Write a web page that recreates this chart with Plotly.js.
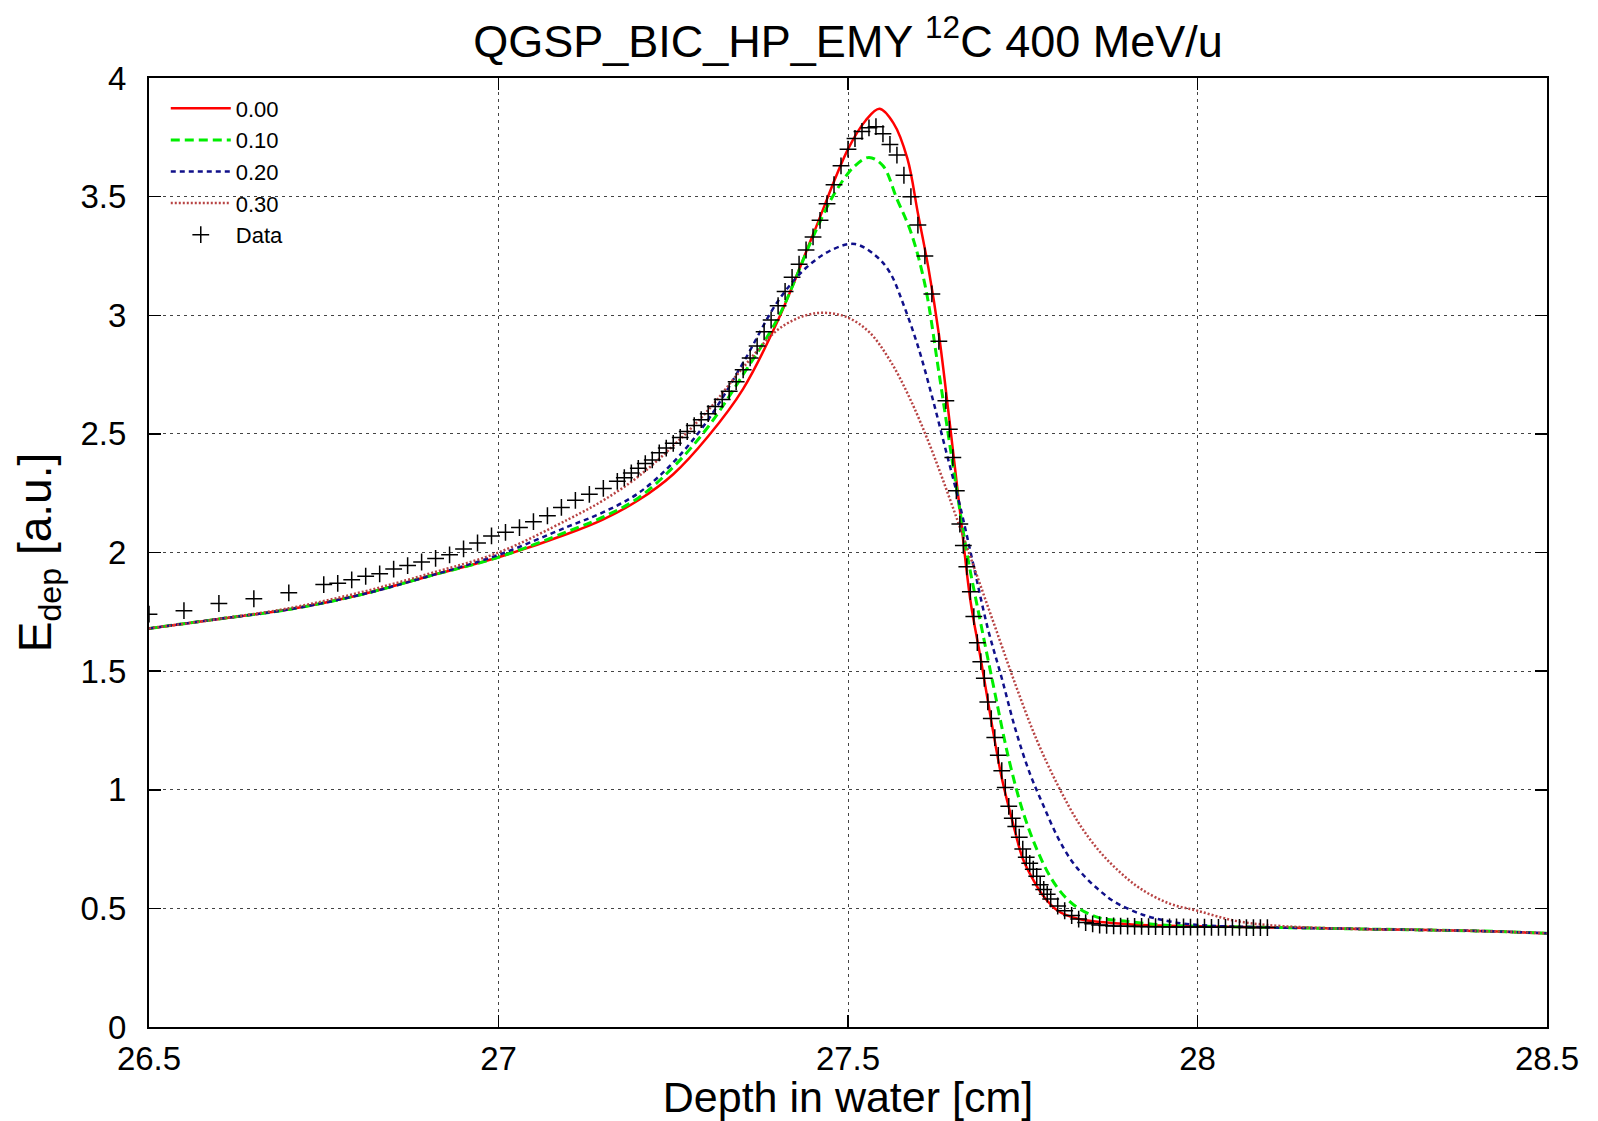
<!DOCTYPE html>
<html>
<head>
<meta charset="utf-8">
<script src="https://cdn.plot.ly/plotly-3.0.1.min.js"></script>
<style>html,body{margin:0;padding:0;background:#fff;}#chart{width:1598px;height:1121px;}</style>
</head>
<body>
<div id="chart"></div>
<script>
// ---- Data ----
const seriesNames = ["0.00", "0.10", "0.20", "0.30", "Data"];

const x000 = [26.50, 26.60, 26.70, 26.80, 26.90, 27.00, 27.10, 27.15, 27.20, 27.25, 27.30, 27.35, 27.40, 27.45, 27.50, 27.525, 27.545, 27.565, 27.585, 27.60, 27.615, 27.63, 27.645, 27.66, 27.675, 27.69, 27.705, 27.72, 27.735, 27.75, 27.765, 27.78, 27.80, 27.83, 27.87, 27.92, 28.00, 28.10, 28.20, 28.30, 28.40, 28.50];
const y000 = [1.68, 1.72, 1.76, 1.82, 1.90, 1.98, 2.08, 2.14, 2.22, 2.33, 2.49, 2.69, 2.98, 3.34, 3.70, 3.82, 3.87, 3.81, 3.66, 3.43, 3.20, 2.92, 2.56, 2.18, 1.80, 1.55, 1.29, 1.05, 0.87, 0.71, 0.62, 0.55, 0.49, 0.455, 0.44, 0.43, 0.425, 0.42, 0.415, 0.41, 0.405, 0.395];

const x010 = [26.50, 26.60, 26.70, 26.80, 26.90, 27.00, 27.10, 27.15, 27.20, 27.25, 27.30, 27.35, 27.40, 27.45, 27.48, 27.51, 27.53, 27.55, 27.57, 27.59, 27.61, 27.63, 27.65, 27.67, 27.69, 27.71, 27.73, 27.75, 27.77, 27.79, 27.81, 27.83, 27.86, 27.90, 27.95, 28.00, 28.10, 28.20, 28.30, 28.40, 28.50];
const y010 = [1.68, 1.72, 1.76, 1.82, 1.90, 1.98, 2.09, 2.15, 2.23, 2.36, 2.53, 2.75, 2.99, 3.33, 3.51, 3.63, 3.665, 3.63, 3.49, 3.35, 3.13, 2.76, 2.37, 2.00, 1.70, 1.41, 1.13, 0.91, 0.75, 0.63, 0.55, 0.50, 0.46, 0.445, 0.43, 0.425, 0.42, 0.415, 0.41, 0.405, 0.395];

const x020 = [26.50, 26.60, 26.70, 26.80, 26.90, 27.00, 27.10, 27.15, 27.20, 27.25, 27.30, 27.35, 27.40, 27.44, 27.48, 27.51, 27.54, 27.56, 27.58, 27.60, 27.62, 27.64, 27.66, 27.68, 27.70, 27.72, 27.74, 27.76, 27.78, 27.80, 27.82, 27.84, 27.86, 27.88, 27.92, 27.96, 28.00, 28.10, 28.20, 28.30, 28.40, 28.50];
const y020 = [1.68, 1.72, 1.76, 1.82, 1.90, 1.99, 2.11, 2.17, 2.25, 2.38, 2.56, 2.80, 3.06, 3.20, 3.28, 3.30, 3.25, 3.18, 3.04, 2.87, 2.66, 2.43, 2.20, 1.94, 1.68, 1.47, 1.25, 1.07, 0.93, 0.80, 0.70, 0.63, 0.575, 0.53, 0.475, 0.445, 0.43, 0.42, 0.415, 0.41, 0.405, 0.395];

const x030 = [26.50, 26.60, 26.70, 26.80, 26.90, 27.00, 27.10, 27.15, 27.20, 27.25, 27.30, 27.35, 27.40, 27.44, 27.47, 27.50, 27.53, 27.56, 27.59, 27.62, 27.65, 27.68, 27.71, 27.74, 27.77, 27.80, 27.83, 27.86, 27.89, 27.92, 27.96, 28.00, 28.05, 28.10, 28.20, 28.30, 28.40, 28.50];
const y030 = [1.68, 1.72, 1.765, 1.83, 1.91, 2.00, 2.14, 2.22, 2.32, 2.45, 2.60, 2.78, 2.94, 3.00, 3.01, 2.99, 2.93, 2.81, 2.64, 2.43, 2.19, 1.94, 1.69, 1.44, 1.21, 1.02, 0.86, 0.74, 0.65, 0.58, 0.52, 0.49, 0.45, 0.43, 0.415, 0.41, 0.405, 0.395];

const dataX = [26.50, 26.55, 26.60, 26.65, 26.70, 26.75, 26.77, 26.79, 26.81, 26.83, 26.85, 26.87, 26.89, 26.91, 26.93, 26.95, 26.97, 26.99, 27.01, 27.03, 27.05, 27.07, 27.09, 27.11, 27.13, 27.15, 27.17, 27.18, 27.19, 27.20, 27.21, 27.22, 27.23, 27.24, 27.25, 27.26, 27.27, 27.28, 27.29, 27.30, 27.31, 27.32, 27.33, 27.34, 27.35, 27.36, 27.37, 27.38, 27.39, 27.40, 27.41, 27.42, 27.43, 27.44, 27.45, 27.46, 27.47, 27.48, 27.49, 27.50, 27.51, 27.52, 27.53, 27.54, 27.55, 27.56, 27.57, 27.58, 27.59, 27.60, 27.61, 27.62, 27.63, 27.64, 27.645, 27.65, 27.655, 27.66, 27.665, 27.67, 27.675, 27.68, 27.685, 27.69, 27.695, 27.70, 27.705, 27.71, 27.715, 27.72, 27.725, 27.73, 27.735, 27.74, 27.745, 27.75, 27.755, 27.76, 27.765, 27.77, 27.775, 27.78, 27.785, 27.79, 27.80, 27.81, 27.82, 27.83, 27.84, 27.85, 27.86, 27.87, 27.88, 27.89, 27.90, 27.91, 27.92, 27.93, 27.94, 27.95, 27.96, 27.97, 27.98, 27.99, 28.00, 28.01, 28.02, 28.03, 28.04, 28.05, 28.06, 28.07, 28.08, 28.09, 28.10];
const dataY = [1.74, 1.755, 1.785, 1.805, 1.83, 1.865, 1.87, 1.885, 1.90, 1.91, 1.93, 1.945, 1.96, 1.975, 1.99, 2.015, 2.04, 2.07, 2.085, 2.105, 2.13, 2.155, 2.19, 2.22, 2.245, 2.27, 2.30, 2.315, 2.335, 2.355, 2.375, 2.39, 2.42, 2.44, 2.46, 2.485, 2.51, 2.535, 2.56, 2.585, 2.615, 2.645, 2.68, 2.72, 2.77, 2.82, 2.87, 2.93, 2.98, 3.04, 3.10, 3.16, 3.215, 3.275, 3.33, 3.40, 3.47, 3.55, 3.63, 3.70, 3.745, 3.775, 3.79, 3.795, 3.765, 3.72, 3.675, 3.59, 3.50, 3.38, 3.25, 3.09, 2.89, 2.64, 2.52, 2.40, 2.26, 2.12, 2.03, 1.94, 1.835, 1.73, 1.62, 1.54, 1.47, 1.37, 1.30, 1.22, 1.145, 1.08, 1.01, 0.93, 0.88, 0.845, 0.80, 0.75, 0.715, 0.69, 0.665, 0.635, 0.60, 0.58, 0.56, 0.54, 0.51, 0.49, 0.47, 0.455, 0.44, 0.435, 0.43, 0.428, 0.426, 0.425, 0.425, 0.424, 0.424, 0.423, 0.423, 0.423, 0.422, 0.422, 0.422, 0.421, 0.421, 0.421, 0.42, 0.42, 0.42, 0.42, 0.42, 0.419, 0.419, 0.419, 0.419];

const FONT = "Liberation Sans, Arial, Helvetica, sans-serif";

const traces = [
  {x: x000, y: y000, name: seriesNames[0], mode: "lines", line: {color: "#ff0000", width: 2.5, shape: "spline", smoothing: 1}},
  {x: x010, y: y010, name: seriesNames[1], mode: "lines", line: {color: "#00ee00", width: 3, dash: "9px,5px", shape: "spline", smoothing: 1}},
  {x: x020, y: y020, name: seriesNames[2], mode: "lines", line: {color: "#10108a", width: 2.5, dash: "5px,4px", shape: "spline", smoothing: 1}},
  {x: x030, y: y030, name: seriesNames[3], mode: "lines", line: {color: "#b84444", width: 2.5, dash: "2px,2px", shape: "spline", smoothing: 1}},
  {x: dataX, y: dataY, name: seriesNames[4], mode: "markers",
   marker: {symbol: "cross-thin", size: 12, color: "#000", line: {color: "#000", width: 1.5}}}
];

const axisCommon = {
  showgrid: true, gridcolor: "#444", gridwidth: 1, griddash: "3px,4px",
  showline: true, linecolor: "#000", linewidth: 2, mirror: "ticks",
  ticks: "inside", ticklen: 12, tickwidth: 1.5, tickcolor: "#000",
  zeroline: false, tickfont: {family: FONT, size: 33, color: "#000"}
};

const layout = {
  width: 1598, height: 1121,
  margin: {l: 149, r: 51, t: 78, b: 94, pad: 0},
  paper_bgcolor: "#fff", plot_bgcolor: "#fff",
  font: {family: FONT, color: "#000"},
  title: {text: "QGSP_BIC_HP_EMY <sup>12</sup>C 400 MeV/u", font: {family: FONT, size: 45, color: "#000"},
          x: 0.5, xref: "paper", xanchor: "center", y: 0.963, yref: "container", yanchor: "middle"},
  xaxis: Object.assign({}, axisCommon, {
    range: [26.5, 28.5], tick0: 26.5, dtick: 0.5, ticklabelstandoff: 1,
    title: {text: "Depth in water [cm]", font: {family: FONT, size: 43, color: "#000"}, standoff: 16}
  }),
  yaxis: Object.assign({}, axisCommon, {
    range: [0, 4], tick0: 0, dtick: 0.5, ticklabelstandoff: 14,
    title: {text: "E<sub>dep</sub> [a.u.]", font: {family: FONT, size: 46, color: "#000"}, standoff: 14}
  }),
  showlegend: true,
  legend: {x: 0.012, y: 0.99, xanchor: "left", yanchor: "top", bgcolor: "rgba(0,0,0,0)",
           borderwidth: 0, font: {family: FONT, size: 22, color: "#000"}, itemwidth: 60, tracegroupgap: 0}
};

Plotly.newPlot("chart", traces, layout, {staticPlot: true, displayModeBar: false});
</script>
</body>
</html>
